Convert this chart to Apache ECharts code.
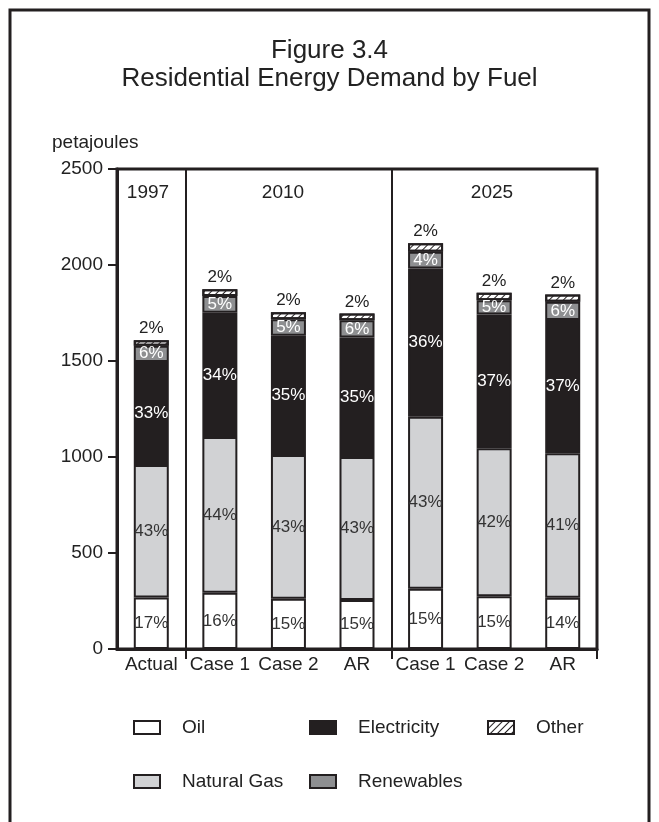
<!DOCTYPE html>
<html>
<head>
<meta charset="utf-8">
<script src="https://cdn.jsdelivr.net/npm/echarts@6/dist/echarts.min.js"></script>
<style>
  html, body { margin: 0; padding: 0; background: #fff; }
  #chart { width: 659px; height: 822px; }
</style>
</head>
<body>
<div id="chart"></div>
<script>
// categories and petajoule values
var categories = ['Actual', 'Case 1', 'Case 2', 'AR', 'Case 1', 'Case 2', 'AR'];
var groups = ['1997', '2010', '2025'];
var oil = [268, 293, 262, 255, 314, 275, 267];
var gas = [690, 811, 748, 745, 896, 770, 753];
var electricity = [537, 647, 621, 623, 772, 697, 693];
var renewables = [85, 88, 87, 89, 87, 75, 95];
var other = [28, 35, 36, 36, 44, 38, 39];

// printed share labels
var oilPct = ['17%', '16%', '15%', '15%', '15%', '15%', '14%'];
var gasPct = ['43%', '44%', '43%', '43%', '43%', '42%', '41%'];
var elecPct = ['33%', '34%', '35%', '35%', '36%', '37%', '37%'];
var renPct = ['6%', '5%', '5%', '6%', '4%', '5%', '6%'];
var otherPct = ['2%', '2%', '2%', '2%', '2%', '2%', '2%'];

var yTicks = [0, 500, 1000, 1500, 2000, 2500];

var FONT = '"Liberation Sans Narrow", "Liberation Sans", sans-serif';
var INK = '#231f20';

var chart = echarts.init(document.getElementById('chart'));

function seg(name, data, pct, color, labelColor, extra) {
  var s = {
    name: name,
    type: 'bar',
    stack: 'fuel',
    barWidth: 35,
    data: data,
    itemStyle: { color: color, borderColor: INK, borderWidth: 2 },
    label: {
      show: true,
      position: 'inside',
      color: labelColor,
      fontFamily: FONT,
      fontSize: 17,
      formatter: function (p) { return pct[p.dataIndex]; }
    }
  };
  return Object.assign(s, extra || {});
}

function legendAt(name, left, top) {
  return {
    data: [{ name: name, icon: 'rect' }],
    left: left,
    top: top,
    itemWidth: 26,
    itemHeight: 13,
    textStyle: { fontFamily: FONT, fontSize: 19, color: '#222', padding: [0, 0, 0, 17] },
    selectedMode: false
  };
}

var option = {
  animation: false,
  title: {
    text: 'Figure 3.4\nResidential Energy Demand by Fuel',
    left: 'center',
    top: 32,
    textStyle: { fontFamily: FONT, fontSize: 26, fontWeight: 'normal', color: '#222', lineHeight: 28 }
  },
  legend: [
    legendAt('Oil', 128, 713),
    legendAt('Electricity', 304, 713),
    legendAt('Other', 482, 713),
    legendAt('Natural Gas', 128, 767),
    legendAt('Renewables', 304, 767)
  ],
  grid: {
    left: 117, right: 62, top: 169, bottom: 173,
    show: true, borderColor: INK, borderWidth: 3
  },
  xAxis: {
    type: 'category',
    data: categories,
    axisLine: { lineStyle: { color: INK, width: 3 } },
    axisTick: {
      show: true,
      length: 10,
      interval: function (i) { return i === 1 || i === 4 || i === 7; },
      lineStyle: { color: INK, width: 2 }
    },
    splitLine: {
      show: true,
      interval: function (i) { return i === 1 || i === 4; },
      lineStyle: { color: INK, width: 2 }
    },
    axisLabel: { interval: 0, fontFamily: FONT, fontSize: 19, color: '#222', margin: 6 }
  },
  yAxis: {
    type: 'value',
    min: yTicks[0],
    max: yTicks[yTicks.length - 1],
    interval: 500,
    axisLine: { show: true, lineStyle: { color: INK, width: 3 } },
    axisTick: { show: true, length: 9, lineStyle: { color: INK, width: 2 } },
    splitLine: { show: false },
    axisLabel: { fontFamily: FONT, fontSize: 19, color: '#222', margin: 14, formatter: function (v) { return String(v); } }
  },
  graphic: [
    { type: 'rect', shape: { x: 10, y: 10, width: 639, height: 830 }, style: { fill: 'none', stroke: INK, lineWidth: 3 }, silent: true },
    { type: 'text', left: 52, top: 133, style: { text: 'petajoules', font: '19px ' + FONT, fill: '#222' } },
    { type: 'text', x: 148, y: 193, style: { text: groups[0], font: '19px ' + FONT, fill: '#222', align: 'center', verticalAlign: 'middle' } },
    { type: 'text', x: 283, y: 193, style: { text: groups[1], font: '19px ' + FONT, fill: '#222', align: 'center', verticalAlign: 'middle' } },
    { type: 'text', x: 492, y: 193, style: { text: groups[2], font: '19px ' + FONT, fill: '#222', align: 'center', verticalAlign: 'middle' } }
  ],
  series: [
    seg('Oil', oil, oilPct, '#ffffff', '#333'),
    seg('Natural Gas', gas, gasPct, '#d1d2d4', '#333'),
    seg('Electricity', electricity, elecPct, INK, '#ffffff'),
    seg('Renewables', renewables, renPct, '#8e8f91', '#ffffff'),
    seg('Other', other, otherPct, '#ffffff', '#222', {
      itemStyle: {
        color: '#ffffff', borderColor: INK, borderWidth: 2,
        decal: { symbol: 'rect', symbolSize: 1, color: INK, dashArrayX: [1, 0], dashArrayY: [1, 4], rotation: -Math.PI / 4 }
      }
    })
  ]
};
option.series[4].label.position = 'top';
option.series[4].label.distance = 3;

chart.setOption(option);
window.addEventListener('resize', function () { chart.resize(); });
</script>
</body>
</html>
